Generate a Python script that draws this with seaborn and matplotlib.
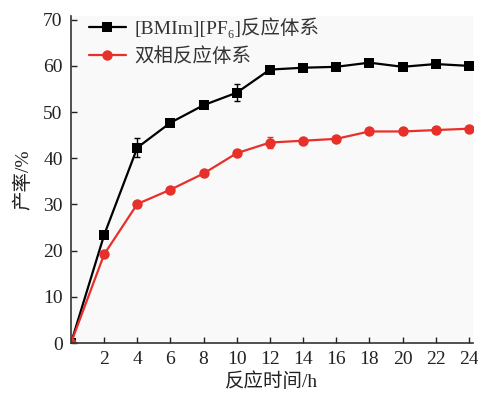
import matplotlib
matplotlib.use("Agg")
import matplotlib.pyplot as plt
import seaborn as sns
import pandas as pd
import numpy as np

hours = [0, 2, 4, 6, 8, 10, 12, 14, 16, 18, 20, 22, 24]
il_yield = [0, 23.4, 42.3, 47.7, 51.5, 54.2, 59.2, 59.6, 59.8, 60.7, 59.8, 60.4, 60.0]
il_err = [0, 0.5, 2.0, 0.5, 0.5, 1.8, 0.5, 0.4, 0.5, 0.8, 0.6, 0.5, 0.5]
bi_yield = [0, 19.2, 30.1, 33.2, 36.7, 41.1, 43.4, 43.8, 44.2, 45.8, 45.8, 46.1, 46.4]
bi_err = [0, 0.4, 0.5, 0.4, 0.4, 0.6, 1.2, 0.4, 0.4, 0.5, 0.6, 0.6, 0.5]
series_names = ["[BMIm][PF\u2086]反应体系", "双相反应体系"]
x_ticks = [2, 4, 6, 8, 10, 12, 14, 16, 18, 20, 22, 24]
y_ticks = [0, 10, 20, 30, 40, 50, 60, 70]

sns.set_style("ticks")
plt.rcParams['font.family'] = ['Liberation Serif', 'Noto Sans CJK SC', 'DejaVu Sans']

df = pd.DataFrame({
    "t": hours * 2,
    "y": il_yield + bi_yield,
    "s": [series_names[0]] * len(hours) + [series_names[1]] * len(hours),
})

fig = plt.figure(figsize=(4.78, 3.93), dpi=100)
ax = fig.add_axes([71/478, 50/393, (473-71)/478, (343-16)/393])
ax.set_facecolor("#f9f9f9")

colors = {series_names[0]: "black", series_names[1]: "#e8302a"}
sns.lineplot(data=df, x="t", y="y", hue="s", style="s",
             palette=colors, markers={series_names[0]: "s", series_names[1]: "o"},
             dashes=False, markersize=7.5, linewidth=1.6, markeredgewidth=0,
             ax=ax, legend=True)

ax.errorbar(hours, il_yield, yerr=il_err, fmt="none", ecolor="black",
            elinewidth=1.0, capsize=2.5, capthick=1.0)
ax.errorbar(hours, bi_yield, yerr=bi_err, fmt="none", ecolor="#e8302a",
            elinewidth=1.0, capsize=2.5, capthick=1.0)

ax.set_xlim(0, 24.25)
ax.set_ylim(0, 70.8)
ax.set_xticks(x_ticks)
ax.set_yticks(y_ticks)
ax.tick_params(direction="in", length=4, width=1, labelsize=14, colors="#222222", pad=6)
for side in ["top", "right"]:
    ax.spines[side].set_visible(False)
for side in ["left", "bottom"]:
    ax.spines[side].set_linewidth(1.2)
    ax.spines[side].set_color("#333333")

ax.set_xlabel("反应时间/h", fontsize=14, labelpad=3, color="#222222")
ax.set_ylabel("产率/%", fontsize=14, labelpad=8, color="#222222")

leg = ax.legend(loc="upper left", frameon=False, fontsize=14,
                borderaxespad=0.1, handlelength=1.9, handletextpad=0.45,
                labelspacing=0.45, bbox_to_anchor=(0.02, 1.025))
for t in leg.get_texts():
    t.set_color("#333333")

fig.savefig("out.png", dpi=100, facecolor="white")
